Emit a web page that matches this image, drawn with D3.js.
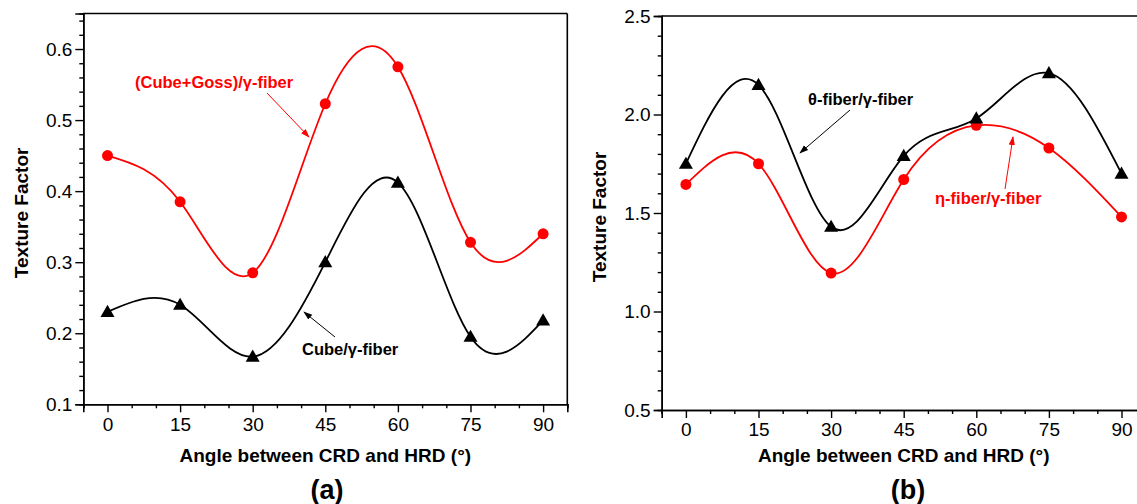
<!DOCTYPE html>
<html><head><meta charset="utf-8">
<script src="https://cdn.jsdelivr.net/npm/d3@7"></script>
<style>body{margin:0;background:#fff}svg{display:block;font-family:"Liberation Sans",Arial,sans-serif}</style>
</head><body><svg id="c" width="1137" height="504"></svg>
<script>
const angles = [0, 15, 30, 45, 60, 75, 90];
const xTicks = [0, 15, 30, 45, 60, 75, 90];
// panel (a)
const cubeGoss = [0.45, 0.385, 0.285, 0.523, 0.575, 0.328, 0.34];
const cube = [0.23, 0.24, 0.167, 0.30, 0.412, 0.195, 0.218];
const yTicksA = [0.1, 0.2, 0.3, 0.4, 0.5, 0.6];
// panel (b)
const theta = [1.75, 2.15, 1.43, 1.79, 1.98, 2.21, 1.70];
const eta = [1.645, 1.75, 1.195, 1.67, 1.945, 1.83, 1.48];
const yTicksB = [0.5, 1.0, 1.5, 2.0, 2.5];

const svg = d3.select("#c");
const defs = svg.append("defs");
function marker(id, color){
  defs.append("marker").attr("id", id).attr("viewBox","0 0 10 10").attr("refX",9).attr("refY",5)
    .attr("markerWidth",9).attr("markerHeight",9).attr("orient","auto-start-reverse")
    .append("path").attr("d","M0,1.5 L10,5 L0,8.5 Z").attr("fill", color);
}
marker("ar","red"); marker("ab","black");

function panel(opt){
  const g = svg.append("g");
  const x = d3.scaleLinear().domain([-5,95]).range([opt.left, opt.left + 484]);
  const y = d3.scaleLinear().domain(opt.yDomain).range([opt.bottom, opt.top]);
  const xa = d3.axisBottom(x).tickValues(xTicks).tickSize(8).tickPadding(5).tickFormat(d3.format("d"));
  const xm = d3.axisBottom(x).tickValues(d3.range(-5, 96, 5).filter(v => v % 15 !== 0)).tickSize(4).tickFormat("");
  const ya = d3.axisLeft(y).tickValues(opt.yTicks).tickSize(8).tickPadding(3).tickFormat(opt.fmt);
  const ym = d3.axisLeft(y).tickValues(opt.yMinor).tickSize(4).tickFormat("");
  [xm, xa].forEach(a => g.append("g").attr("transform",`translate(0,${opt.bottom})`).call(a));
  [ym, ya].forEach(a => g.append("g").attr("transform",`translate(${opt.left},0)`).call(a));
  g.selectAll(".domain").attr("stroke","#000").attr("stroke-width",1.6);
  g.selectAll(".tick line").attr("stroke","#000").attr("stroke-width",1.4);
  g.selectAll(".tick text").attr("font-size",19).attr("fill","#000").attr("font-family","Liberation Sans, Arial");
  g.append("line").attr("x1",opt.left).attr("x2",x(95)).attr("y1",opt.top).attr("y2",opt.top).attr("stroke","#000").attr("stroke-width",1.6);
  g.append("line").attr("x1",x(95)).attr("x2",x(95)).attr("y1",opt.top).attr("y2",opt.bottom).attr("stroke","#000").attr("stroke-width",1.6);
  g.append("text").attr("x",(opt.left + x(95))/2).attr("y",462).attr("text-anchor","middle")
    .attr("font-size",19).attr("font-weight","bold").text("Angle between CRD and HRD (°)");
  g.append("text").attr("transform",`translate(${opt.ylx},${(opt.top+opt.bottom)/2 + 4}) rotate(-90)`)
    .attr("text-anchor","middle").attr("font-size",19).attr("font-weight","bold").text("Texture Factor");
  g.append("text").attr("x",opt.capX).attr("y",499).attr("text-anchor","middle")
    .attr("font-size",27).attr("font-weight","bold").text(opt.cap);
  const line = d3.line().x((d,i)=>x(angles[i])).y(d=>y(d)).curve(d3.curveNatural);
  opt.series.forEach(s => {
    g.append("path").attr("d", line(s.values)).attr("fill","none").attr("stroke", s.color).attr("stroke-width",1.8);
    if (s.shape === "circle") {
      g.selectAll(null).data(s.values).enter().append("circle")
        .attr("cx",(d,i)=>x(angles[i])).attr("cy",d=>y(d)).attr("r",5.5).attr("fill",s.color);
    } else {
      const sym = d3.symbol().type(d3.symbolTriangle).size(85);
      g.selectAll(null).data(s.values).enter().append("path").attr("d", sym)
        .attr("transform",(d,i)=>`translate(${x(angles[i])},${y(d)+1})`).attr("fill",s.color);
    }
  });
  opt.notes.forEach(n => {
    g.append("text").attr("x",n.tx).attr("y",n.ty).attr("font-size",16.5).attr("font-weight","bold")
      .attr("fill",n.color).text(n.text);
    g.append("line").attr("x1",n.a[0]).attr("y1",n.a[1]).attr("x2",n.a[2]).attr("y2",n.a[3])
      .attr("stroke",n.color).attr("stroke-width",1).attr("marker-end",`url(#${n.color==="red"?"ar":"ab"})`);
  });
}

panel({left:83.3, top:13.5, bottom:404.3, yDomain:[0.1,0.65], yTicks:yTicksA,
  yMinor:d3.range(0.12,0.65,0.02).map(v=>+v.toFixed(2)).filter(v=>Math.round(v*100)%10!==0),
  fmt:d3.format(".1f"), ylx:28, capX:327, cap:"(a)",
  series:[{values:cubeGoss,color:"red",shape:"circle"},{values:cube,color:"black",shape:"tri"}],
  notes:[{text:"(Cube+Goss)/γ-fiber",tx:135,ty:88,color:"red",a:[267,93,309,137]},
         {text:"Cube/γ-fiber",tx:302,ty:355,color:"black",a:[335,337,304,312]}]});

panel({left:661.7, top:16, bottom:410, yDomain:[0.5,2.5], yTicks:yTicksB,
  yMinor:d3.range(0.6,2.5,0.1).map(v=>+v.toFixed(1)).filter(v=>Math.round(v*10)%5!==0),
  fmt:d3.format(".1f"), ylx:606, capX:908, cap:"(b)",
  series:[{values:eta,color:"red",shape:"circle"},{values:theta,color:"black",shape:"tri"}],
  notes:[{text:"θ-fiber/γ-fiber",tx:808,ty:105,color:"black",a:[850,110,800,153]},
         {text:"η-fiber/γ-fiber",tx:935,ty:204,color:"red",a:[1005,189,1013,137]}]});
</script></body></html>
